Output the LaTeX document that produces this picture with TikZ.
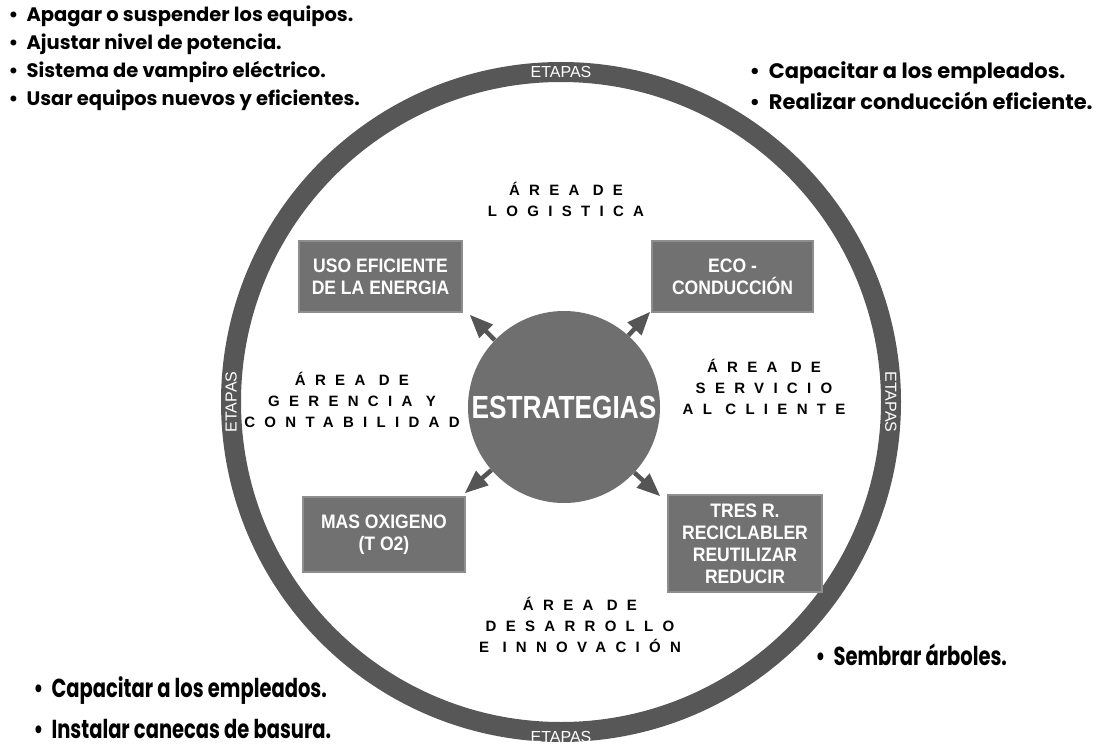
\documentclass[tikz,border=0pt]{standalone}
\usepackage{fontspec}
\setmainfont{Liberation Sans}
\newfontfamily\popfont{Poppins}
\newfontfamily\popnarrow[FakeStretch=0.75]{Poppins}
\newfontfamily\narrowfont[FakeStretch=0.9]{Liberation Sans}
\newfontfamily\estfont[FakeStretch=0.82]{Liberation Sans}
\newfontfamily\areafont[LetterSpace=62]{Liberation Sans}
\usetikzlibrary{arrows,positioning}

\definecolor{ringgray}{HTML}{575757}
\definecolor{estgray}{HTML}{6F6F6F}
\definecolor{boxgray}{HTML}{717171}
\definecolor{boxline}{HTML}{8E8E8E}
\definecolor{arrowgray}{HTML}{555555}

\begin{document}
\begin{tikzpicture}[x=1pt,y=-1pt,>=triangle 45,node distance=28pt,
  box/.style={rectangle,fill=boxgray,draw=boxline,line width=1.2pt,text=white,align=center,inner sep=0pt,font=\narrowfont\bfseries\fontsize{19.5}{22}\selectfont},
  area/.style={align=center,font=\areafont\bfseries\fontsize{15}{21}\selectfont},
  etapa/.style={text=white,font=\fontsize{16}{18}\selectfont},
  lista/.style={anchor=west,font=\popfont\bfseries\fontsize{19.5}{22}\selectfont},
  listarechts/.style={anchor=west,font=\popfont\bfseries\fontsize{21}{24}\selectfont},
  listaschmal/.style={anchor=west,font=\popnarrow\bfseries\fontsize{26}{28}\selectfont},
  pfeil/.style={->,draw=arrowgray,line width=4.5pt}]
\useasboundingbox (0,0) rectangle (1112,749);

% Ring mit den Etapas
  \node[circle,draw=ringgray,line width=20pt,minimum size=660pt,inner sep=0pt,outer sep=0pt] (ring) at (561,402) {};
  \node[etapa] (etapaN) at (ring.north) {ETAPAS};
  \node[etapa] (etapaS) at ([yshift=-5pt]ring.south) {ETAPAS}; % etwas tiefer, wie im Bild
  \node[etapa,rotate=90] (etapaW) at (ring.west) {ETAPAS};
  \node[etapa,rotate=-90] (etapaE) at (ring.east) {ETAPAS};

% Kreis in der Mitte
  \node[circle,fill=estgray,minimum size=192pt,inner sep=0pt,text=white,font=\estfont\bfseries\fontsize{32}{34}\selectfont] (est) at (564,407) {ESTRATEGIAS};

% Kaesten
  \node[box,minimum width=163pt,minimum height=71pt] (uso) at (380.5,276.5) {USO EFICIENTE\\DE LA ENERGIA};
  \node[box,minimum width=161pt,minimum height=71pt] (eco) at (732.5,276.5) {ECO -\\CONDUCCI\'ON};
  \node[box,minimum width=162pt,minimum height=75pt] (mas) at (384,534.5) {MAS OXIGENO\\(T O2)};
  \node[box,minimum width=154pt,minimum height=97pt] (tres) at (745,543.5) {TRES R.\\RECICLABLER\\REUTILIZAR\\REDUCIR};

% Pfeilspitzen (frei, zeigen auf die Kaesten)
  \coordinate (zuUso) at (470,315);
  \coordinate (zuEco) at (650,312);
  \coordinate (zuMas) at (465,493);
  \coordinate (zuTres) at (660,496);
  \draw[pfeil] (est.136) -- (zuUso);
  \draw[pfeil] (est.48) -- (zuEco);
  \draw[pfeil] (est.221) -- (zuMas);
  \draw[pfeil] (est.-43) -- (zuTres);

% Bereiche
  \node[area] (logistica) at (566,199) {ÁREA DE\\LOGISTICA};
  \node[area] (gerencia) at (352,400) {ÁREA DE\\GERENCIA Y\\CONTABILIDAD};
  \node[area] (servicio) at (764,387) {ÁREA DE\\SERVICIO\\AL CLIENTE};
  \node[area] (desarrollo) at (580,625) {ÁREA DE\\DESARROLLO\\E INNOVACIÓN};

% Listen, jede Zeile unter der vorigen
  \node[lista] (l1) at (5,16) {\textbullet\ \ Apagar o suspender los equipos.};
  \node[lista] (l2) [below=of l1.west,anchor=west] {\textbullet\ \ Ajustar nivel de potencia.};
  \node[lista] (l3) [below=of l2.west,anchor=west] {\textbullet\ \ Sistema de vampiro eléctrico.};
  \node[lista] (l4) [below=of l3.west,anchor=west] {\textbullet\ \ Usar equipos nuevos y eficientes.};

  \node[listarechts] (r1) at (746,73) {\textbullet\ \ Capacitar a los empleados.};
  \node[listarechts] (r2) [below=of r1.west,anchor=west] {\textbullet\ \ Realizar conducción eficiente.};

  \node[listaschmal] (s1) at (812,655) {\textbullet\ \ Sembrar árboles.};

  \node[listaschmal] (u1) at (30,691) {\textbullet\ \ Capacitar a los empleados.};
  \node[listaschmal] (u2) [below=38pt of u1.west,anchor=west] {\textbullet\ \ Instalar canecas de basura.};
\end{tikzpicture}
\end{document}
